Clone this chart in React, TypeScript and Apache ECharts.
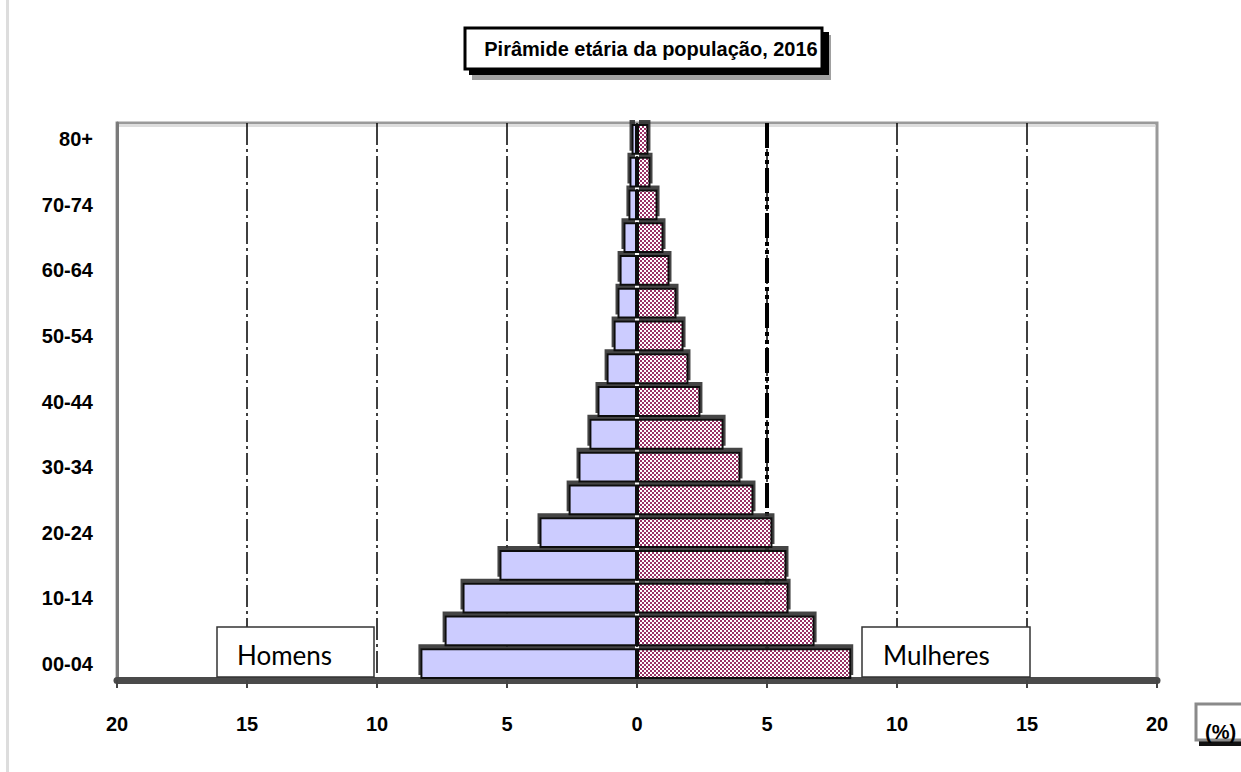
import React, { useEffect, useRef } from "react";
import * as echarts from "echarts";

const ageGroups = [
  "00-04", "05-09", "10-14", "15-19", "20-24", "25-29", "30-34", "35-39",
  "40-44", "45-49", "50-54", "55-59", "60-64", "65-69", "70-74", "75-79", "80+",
];
const homens = [8.33, 7.4, 6.71, 5.29, 3.75, 2.63, 2.25, 1.83, 1.52, 1.17, 0.9, 0.75, 0.67, 0.52, 0.33, 0.29, 0.21];
const mulheres = [8.24, 6.83, 5.83, 5.75, 5.21, 4.48, 3.98, 3.33, 2.44, 1.98, 1.79, 1.52, 1.25, 1.02, 0.79, 0.52, 0.44];
const xTicks = { min: -20, max: 20, interval: 5 };
// helper axis (0..40 maps onto -20..20) whose only inner split line falls on +5
const thickAxis = { min: 0, max: 40, interval: 25 };

const titleText = "Pirâmide etária da população, 2016";
const unitText = "(%)";
const labelHomens = "Homens";
const labelMulheres = "Mulheres";

function makeChecker(): HTMLCanvasElement {
  const c = document.createElement("canvas");
  c.width = 4;
  c.height = 4;
  const ctx = c.getContext("2d")!;
  ctx.fillStyle = "#ffffff";
  ctx.fillRect(0, 0, 4, 4);
  ctx.fillStyle = "#993366";
  ctx.fillRect(0, 0, 2, 2);
  ctx.fillRect(2, 2, 2, 2);
  return c;
}

export default function App() {
  const ref = useRef<HTMLDivElement>(null);
  useEffect(() => {
    if (!ref.current) return;
    const chart = echarts.init(ref.current, null, { renderer: "svg" });
    const font = "Liberation Sans, Arial, sans-serif";
    const checker = makeChecker();
    const option: any = {
      animation: false,
      backgroundColor: "#ffffff",
      grid: {
        left: 117,
        right: 84,
        top: 123,
        bottom: 92,
        show: true,
        borderColor: "#9a9a9a",
        borderWidth: 3,
        backgroundColor: "transparent",
      },
      xAxis: [
        {
          type: "value",
          min: xTicks.min,
          max: xTicks.max,
          interval: xTicks.interval,
          axisLine: { show: true, onZero: false, lineStyle: { color: "#4a4a4a", width: 7 } },
          axisTick: { show: true, length: 8, lineStyle: { color: "#444", width: 2 } },
          axisLabel: {
            margin: 34,
            fontFamily: font,
            fontWeight: "bold",
            fontSize: 20,
            color: "#000",
            formatter: (v: number) => String(Math.abs(v)),
          },
          splitLine: {
            show: true,
            showMinLine: false,
            showMaxLine: false,
            lineStyle: { color: "#000", width: 1.5, type: [22, 4, 3, 4] },
          },
        },
        {
          type: "value",
          position: "top",
          min: thickAxis.min,
          max: thickAxis.max,
          interval: thickAxis.interval,
          axisLine: { show: false },
          axisTick: { show: false },
          axisLabel: { show: false },
          splitLine: {
            show: true,
            showMinLine: false,
            showMaxLine: false,
            lineStyle: { color: "#000", width: 4, type: [25, 4, 4, 4, 4, 4] },
          },
        },
      ],
      yAxis: {
        type: "category",
        data: ageGroups,
        axisLine: { show: true, onZero: false, lineStyle: { color: "#7a7a7a", width: 3 } },
        axisTick: { show: false },
        axisLabel: {
          interval: 1,
          margin: 24,
          fontFamily: font,
          fontWeight: "bold",
          fontSize: 20,
          color: "#000",
        },
        splitLine: { show: false },
      },
      series: [
        {
          type: "bar",
          name: labelHomens,
          data: homens.map((v) => -v),
          barGap: "-100%",
          barCategoryGap: "6%",
          z: 3,
          itemStyle: {
            color: "#ccccff",
            borderColor: "#111",
            borderWidth: 2,
            shadowColor: "rgba(50,50,50,0.9)",
            shadowOffsetX: -2,
            shadowOffsetY: -4,
            shadowBlur: 0,
          },
        },
        {
          type: "bar",
          name: labelMulheres,
          data: mulheres,
          barGap: "-100%",
          barCategoryGap: "6%",
          z: 3,
          itemStyle: {
            color: { image: checker, repeat: "repeat" },
            borderColor: "#111",
            borderWidth: 2,
            shadowColor: "rgba(50,50,50,0.9)",
            shadowOffsetX: 2,
            shadowOffsetY: -4,
            shadowBlur: 0,
          },
        },
      ],
      graphic: [
        { type: "rect", shape: { x: 6, y: 0, width: 3, height: 772 }, style: { fill: "#dddddd" }, z: 0 },
        { type: "rect", shape: { x: 119, y: 124, width: 1036, height: 3 }, style: { fill: "#dddddd" }, z: 0 },
        // title box
        { type: "rect", shape: { x: 472, y: 35, width: 359, height: 45 }, style: { fill: "#a0a0a0" }, z: 10 },
        { type: "rect", shape: { x: 469, y: 32, width: 360, height: 43 }, style: { fill: "#000" }, z: 11 },
        {
          type: "rect",
          shape: { x: 465, y: 28, width: 357, height: 41 },
          style: { fill: "#fff", stroke: "#000", lineWidth: 3 },
          z: 12,
        },
        {
          type: "text",
          x: 651,
          y: 49,
          z: 13,
          style: {
            text: titleText,
            fill: "#000",
            font: "bold 20px Liberation Sans, Arial, sans-serif",
            textAlign: "center",
            textVerticalAlign: "middle",
          },
        },
        // unit box
        { type: "rect", shape: { x: 1199, y: 739, width: 50, height: 7 }, style: { fill: "#111" }, z: 10 },
        {
          type: "rect",
          shape: { x: 1196, y: 704, width: 60, height: 36 },
          style: { fill: "#fff", stroke: "#8a8a8a", lineWidth: 3 },
          z: 11,
        },
        {
          type: "text",
          x: 1205,
          y: 732,
          z: 12,
          style: {
            text: unitText,
            fill: "#000",
            font: "bold 20px Liberation Sans, Arial, sans-serif",
            textAlign: "left",
            textVerticalAlign: "middle",
          },
        },
        // Homens box
        {
          type: "rect",
          shape: { x: 217, y: 627, width: 157, height: 50 },
          style: { fill: "#fff", stroke: "#333", lineWidth: 1.5 },
          z: 20,
        },
        {
          type: "text",
          x: 237,
          y: 655,
          z: 21,
          style: {
            text: labelHomens,
            fill: "#000",
            font: "26px Lato, sans-serif",
            textAlign: "left",
            textVerticalAlign: "middle",
          },
        },
        // Mulheres box
        {
          type: "rect",
          shape: { x: 862, y: 627, width: 168, height: 50 },
          style: { fill: "#fff", stroke: "#333", lineWidth: 1.5 },
          z: 20,
        },
        {
          type: "text",
          x: 883,
          y: 655,
          z: 21,
          style: {
            text: labelMulheres,
            fill: "#000",
            font: "26px Lato, sans-serif",
            textAlign: "left",
            textVerticalAlign: "middle",
          },
        },
      ],
    };
    chart.setOption(option);
    return () => chart.dispose();
  }, []);
  return (
    <div
      ref={ref}
      style={{ position: "absolute", left: 0, top: 0, width: 1241, height: 772 }}
    />
  );
}
